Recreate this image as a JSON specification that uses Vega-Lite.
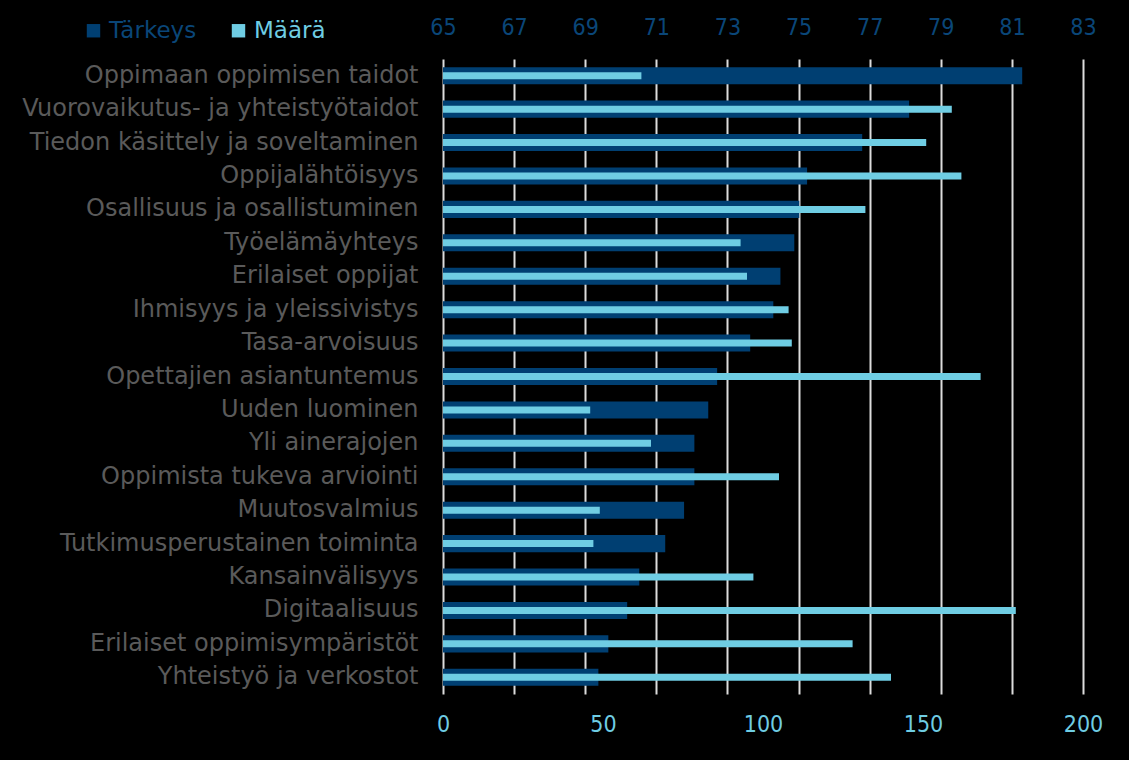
{
  "$schema": "https://vega.github.io/schema/vega-lite/v6.json",
  "width": 640,
  "height": 635,
  "autosize": {"type": "none"},
  "padding": {"left": 443, "top": 59, "right": 46, "bottom": 66},
  "background": "#000000",
  "data": {
    "values": [
      {"kategoria": "Oppimaan oppimisen taidot", "tarkeys": 81.29, "maara": 62},
      {"kategoria": "Vuorovaikutus- ja yhteistyötaidot", "tarkeys": 78.11, "maara": 159},
      {"kategoria": "Tiedon käsittely ja soveltaminen", "tarkeys": 76.79, "maara": 151},
      {"kategoria": "Oppijalähtöisyys", "tarkeys": 75.24, "maara": 162},
      {"kategoria": "Osallisuus ja osallistuminen", "tarkeys": 75.02, "maara": 132},
      {"kategoria": "Työelämäyhteys", "tarkeys": 74.88, "maara": 93},
      {"kategoria": "Erilaiset oppijat", "tarkeys": 74.49, "maara": 95},
      {"kategoria": "Ihmisyys ja yleissivistys", "tarkeys": 74.29, "maara": 108},
      {"kategoria": "Tasa-arvoisuus", "tarkeys": 73.64, "maara": 109},
      {"kategoria": "Opettajien asiantuntemus", "tarkeys": 72.71, "maara": 168},
      {"kategoria": "Uuden luominen", "tarkeys": 72.46, "maara": 46},
      {"kategoria": "Yli ainerajojen", "tarkeys": 72.07, "maara": 65},
      {"kategoria": "Oppimista tukeva arviointi", "tarkeys": 72.07, "maara": 105},
      {"kategoria": "Muutosvalmius", "tarkeys": 71.78, "maara": 49},
      {"kategoria": "Tutkimusperustainen toiminta", "tarkeys": 71.25, "maara": 47},
      {"kategoria": "Kansainvälisyys", "tarkeys": 70.52, "maara": 97},
      {"kategoria": "Digitaalisuus", "tarkeys": 70.18, "maara": 179},
      {"kategoria": "Erilaiset oppimisympäristöt", "tarkeys": 69.65, "maara": 128},
      {"kategoria": "Yhteistyö ja verkostot", "tarkeys": 69.37, "maara": 140}
    ]
  },
  "layer": [
    {
      "mark": {"type": "bar", "height": {"band": 0.51}},
      "encoding": {
        "y": {"field": "kategoria", "type": "nominal", "sort": null,
              "scale": {"paddingInner": 0, "paddingOuter": 0}},
        "x": {"field": "tarkeys", "type": "quantitative",
              "scale": {"domain": [65, 83], "nice": false, "zero": false},
              "axis": {"orient": "top", "values": [65, 67, 69, 71, 73, 75, 77, 79, 81, 83],
                       "grid": true, "gridColor": "#dcdcdc", "gridWidth": 2, "gridOpacity": 1,
                       "ticks": false, "tickSize": 0, "domain": false, "labelColor": "#0a4678",
                       "labelFlush": false, "labelPadding": 20, "title": null}},
        "x2": {"datum": 65},
        "color": {"datum": "Tärkeys", "type": "nominal",
                  "scale": {"domain": ["Tärkeys", "Määrä"], "range": ["#003f72", "#6fcde3"]},
                  "legend": {"orient": "none", "legendX": -361, "legendY": -40, "direction": "horizontal",
                             "title": null, "symbolType": "square", "symbolSize": 180,
                             "symbolStrokeWidth": 0, "symbolOpacity": 1, "labelOffset": 4,
                             "columnPadding": 30, "padding": 0,
                             "labelFontSize": 23, "labelFont": "DejaVu Sans, sans-serif",
                             "encode": {"labels": {"update": {"fill": {"signal": "datum.value === 'Tärkeys' ? '#0a4678' : '#6fcde3'"}}}}}}
      }
    },
    {
      "mark": {"type": "bar", "height": 7},
      "encoding": {
        "y": {"field": "kategoria", "type": "nominal", "sort": null},
        "x": {"field": "maara", "type": "quantitative",
              "scale": {"domain": [0, 200], "nice": false},
              "axis": {"orient": "bottom", "values": [0, 50, 100, 150, 200],
                       "grid": false, "ticks": false, "tickSize": 0, "domain": false,
                       "labelColor": "#6fcde3", "labelFlush": false, "labelPadding": 19, "title": null}},
        "color": {"datum": "Määrä", "type": "nominal"}
      }
    }
  ],
  "resolve": {"scale": {"x": "independent"}, "axis": {"x": "independent"}},
  "config": {
    "view": {"stroke": null},
    "axis": {"labelFont": "DejaVu Sans Condensed, DejaVu Sans, sans-serif", "labelFontSize": 23, "labelFontWeight": "normal"},
    "axisY": {"title": null, "ticks": false, "tickSize": 0, "domain": false, "grid": false,
              "labelFont": "DejaVu Sans, sans-serif",
              "labelColor": "#5a5a5a", "labelPadding": 25, "labelLimit": 0, "labelFontSize": 24}
  }
}
